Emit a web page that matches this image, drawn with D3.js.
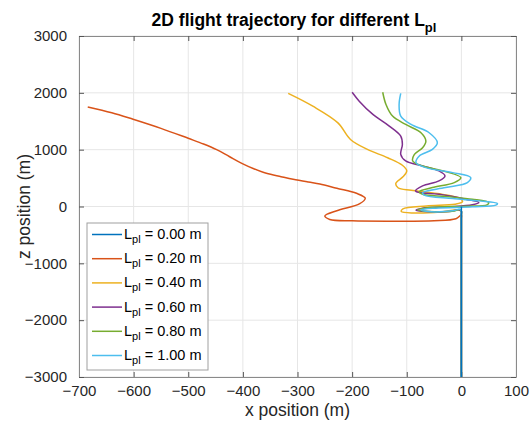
<!DOCTYPE html>
<html>
<head>
<meta charset="utf-8">
<script src="https://cdn.jsdelivr.net/npm/d3@7"></script>
<style>
    body { margin: 0; background: #fff; }
    svg { display: block; font-family: "Liberation Sans", Arial, Helvetica, sans-serif; }
</style>
</head>
<body>
<svg width="530" height="426"></svg>
<script>
// pendulum lengths (legend)
const lengths = [0.00, 0.20, 0.40, 0.60, 0.80, 1.00];

// x / z positions of every trajectory (m)
const xL000 = [0, 0];
const zL000 = [0, -3000];

const xL020 = [-684, -640, -601, -550, -500, -472, -448, -425, -402, -380, -357, -330, -308, -280, -259, -228, -192, -176, -186, -228, -250, -241, -200, -120, -50, -10, 0, 0, 0];
const zL020 = [1752, 1650, 1535, 1375, 1200, 1100, 1000, 880, 760, 665, 584, 525, 479, 430, 396, 320, 232, 146, 50, -74, -167, -228, -252, -258, -250, -215, -150, -220, -3000];

const xL040 = [-317, -272, -226, -203, -172, -135, -108, -100, -107, -120, -116, -92, -44, -2, 2, -12, -64, -107, -110, -86, -38, -5, 0, 0, 0];
const zL040 = [1990, 1765, 1472, 1180, 1005, 858, 726, 627, 522, 407, 330, 285, 228, 140, 82, 40, 10, -40, -88, -114, -97, -60, -90, -160, -3000];

const xL060 = [-200, -187, -162, -132, -111, -108, -111, -102, -71, -41, -30, -41, -71, -84, -77, -41, 8, 32, 20, -22, -71, -83, -65, -22, -4, 0, 0, 0];
const zL060 = [2010, 1854, 1620, 1415, 1240, 1094, 918, 801, 713, 626, 538, 450, 363, 275, 246, 216, 129, 70, 29, -6, -29, -64, -88, -88, -60, -80, -150, -3000];

const xL080 = [-144, -138, -126, -102, -74, -65, -71, -86, -89, -71, -29, -1, -13, -53, -77, -71, -29, 20, 50, 47, 8, -59, -80, -59, -16, -3, 0, 0, 0];
const zL080 = [2010, 1795, 1591, 1444, 1298, 1152, 1035, 918, 801, 713, 614, 509, 421, 333, 263, 216, 175, 129, 70, 29, 6, -18, -58, -88, -82, -55, -80, -150, -3000];

const xL100 = [-111, -114, -111, -92, -59, -44, -53, -77, -83, -65, -16, 17, 11, -29, -71, -68, -16, 32, 66, 63, 20, -47, -74, -62, -16, -3, 0, 0, 0];
const zL100 = [1990, 1795, 1591, 1444, 1298, 1123, 1006, 889, 772, 684, 596, 509, 421, 333, 246, 199, 140, 99, 53, 23, -6, -29, -58, -88, -76, -50, -80, -150, -3000];

const xTicks = [-700, -600, -500, -400, -300, -200, -100, 0, 100];
const zTicks = [-3000, -2000, -1000, 0, 1000, 2000, 3000];

const colors = ["#0072BD", "#D95319", "#EDB120", "#7E2F8E", "#77AC30", "#4DBEEE"];

function buildSeries() {
    const xs = [xL000, xL020, xL040, xL060, xL080, xL100];
    const zs = [zL000, zL020, zL040, zL060, zL080, zL100];
    return lengths.map((L, i) => ({
        L: L,
        color: colors[i],
        points: xs[i].map((x, j) => ({x: x, z: zs[i][j]}))
    }));
}

function drawGraph() {
    const svg = d3.select("svg");
    svg.selectAll("*").remove();

    const area = {left: 79, right: 516, top: 36, bottom: 377};
    const axisColor = "#8a8a8a";

    const scX = d3.scaleLinear().domain([-700, 100]).range([area.left, area.right]);
    const scY = d3.scaleLinear().domain([-3000, 3000]).range([area.bottom, area.top]);

    // grid
    const grid = svg.append("g");
    grid.selectAll(".gx").data(xTicks).enter().append("line")
        .attr("x1", d => scX(d)).attr("x2", d => scX(d))
        .attr("y1", area.top).attr("y2", area.bottom)
        .attr("stroke", "#e6e6e6").attr("stroke-width", 1);
    grid.selectAll(".gy").data(zTicks).enter().append("line")
        .attr("x1", area.left).attr("x2", area.right)
        .attr("y1", d => scY(d)).attr("y2", d => scY(d))
        .attr("stroke", "#e6e6e6").attr("stroke-width", 1);

    // axes, ticks pointing inside
    const fmt = d3.format("d");
    const axes = [
        {ax: d3.axisBottom(scX).tickValues(xTicks).tickFormat(fmt).tickPadding(8), tr: `translate(0, ${area.bottom})`},
        {ax: d3.axisTop(scX).tickValues(xTicks).tickFormat(""), tr: `translate(0, ${area.top})`},
        {ax: d3.axisLeft(scY).tickValues(zTicks).tickFormat(fmt).tickPadding(12), tr: `translate(${area.left}, 0)`},
        {ax: d3.axisRight(scY).tickValues(zTicks).tickFormat(""), tr: `translate(${area.right}, 0)`}
    ];
    axes.forEach(a => {
        const g = svg.append("g")
            .attr("transform", a.tr)
            .call(a.ax.tickSizeInner(-5).tickSizeOuter(0));
        g.select(".domain").attr("stroke", axisColor);
        g.selectAll(".tick line").attr("stroke", "#555");
        g.selectAll(".tick text")
            .attr("fill", "#262626")
            .style("font-size", "15px")
            .style("font-family", "'Liberation Sans', Arial, sans-serif");
    });

    // trajectories
    const data = buildSeries();
    const line = d3.line()
        .x(d => scX(d.x))
        .y(d => scY(d.z))
        .curve(d3.curveCatmullRom.alpha(0.5));

    const paths = svg.append("g").selectAll("path")
        .data(data)
        .enter()
        .append("path")
        .attr("d", d => line(d.points))
        .attr("fill", "none")
        .attr("stroke", d => d.color)
        .attr("stroke-width", 1.5);
    paths.filter((d, i) => i === 0).raise();

    // title
    const title = svg.append("text")
        .attr("x", 294)
        .attr("y", 26)
        .attr("text-anchor", "middle")
        .attr("fill", "#000")
        .style("font-weight", "bold")
        .style("font-size", "17.5px");
    title.append("tspan").text("2D flight trajectory for different L");
    title.append("tspan").attr("dy", 6).style("font-size", "13px").text("pl");

    // axis labels
    svg.append("text")
        .attr("x", (area.left + area.right) / 2)
        .attr("y", 416)
        .attr("text-anchor", "middle")
        .attr("fill", "#262626")
        .style("font-size", "17.5px")
        .text("x position (m)");

    svg.append("text")
        .attr("transform", `translate(30, ${(area.top + area.bottom) / 2}) rotate(-90)`)
        .attr("text-anchor", "middle")
        .attr("fill", "#262626")
        .style("font-size", "17.5px")
        .text("z position (m)");

    // legend
    const leg = {x: 87, y: 223, w: 121, h: 147, row: 24.2};
    const legend = svg.append("g");
    legend.append("rect")
        .attr("x", leg.x).attr("y", leg.y)
        .attr("width", leg.w).attr("height", leg.h)
        .attr("fill", "#fff")
        .attr("stroke", "#a0a0a0")
        .attr("stroke-width", 1);

    const items = legend.selectAll(".item")
        .data(data)
        .enter()
        .append("g")
        .attr("transform", (d, i) => `translate(${leg.x}, ${leg.y + 11.5 + i * leg.row})`);
    items.append("line")
        .attr("x1", 5).attr("x2", 35)
        .attr("stroke", d => d.color)
        .attr("stroke-width", 1.5);
    const txt = items.append("text")
        .attr("x", 37)
        .attr("y", 4.5)
        .attr("fill", "#000")
        .style("font-size", "14.5px");
    txt.append("tspan").text("L");
    txt.append("tspan").attr("dy", 4).style("font-size", "11px").text("pl");
    txt.append("tspan").attr("dy", -4).text(d => ` = ${d.L.toFixed(2)} m`);
}

drawGraph();
</script>
</body>
</html>
